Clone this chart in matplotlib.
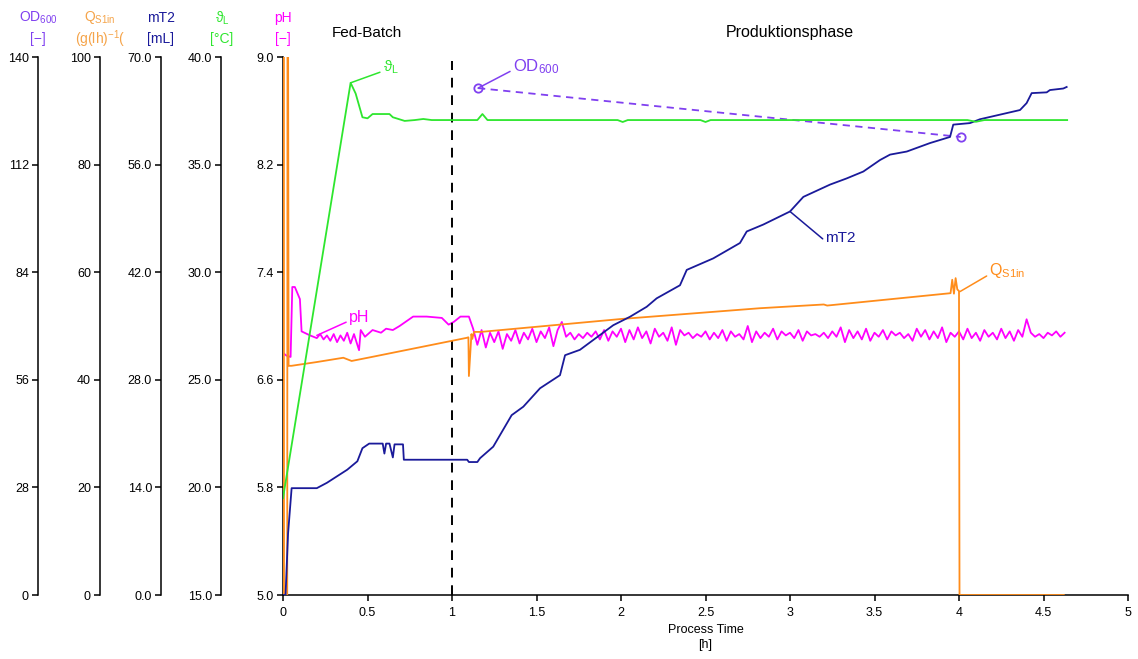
import numpy as np
import matplotlib.pyplot as plt

plt.rcParams['font.family'] = ['Liberation Sans', 'DejaVu Sans']
plt.rcParams['mathtext.fontset'] = 'custom'
plt.rcParams['mathtext.rm'] = 'Liberation Sans'
plt.rcParams['mathtext.it'] = 'Liberation Sans:italic'

# colours
c_od = '#8040F0'
c_q = '#FF8C1A'
c_q_txt = '#F5A44A'
c_mt = '#1A1A9A'
c_th = '#2EE62E'
c_ph = '#FF00FF'

# ---- data (time in h) ----
# OD600 (offline samples)
od_t = [1.154, 4.01]
od_v = [131.9, 119.2]

# Q_S1in feed rate
q_t = [0, 0.002, 0.004, 0.006, 0.025, 0.027, 0.029, 0.033, 0.05, 0.2, 0.357, 0.406, 0.534,
       1.087, 1.097, 1.10, 1.115, 1.12, 1.13, 1.17, 2.0, 2.82, 3.2, 3.22, 3.95,
       3.96, 3.97, 3.98, 3.99, 4.0, 4.003, 4.62]
q_v = [0, 130, 130, 0, 0, 130, 130, 42.6, 42.6, 43.3, 44.1, 43.5, 44.3,
       47.8, 47.9, 40.7, 48.5, 47.6, 48.9, 48.9, 51.3, 53.3, 54.0, 53.8, 56.1,
       58.6, 56.0, 58.9, 56.8, 56.5, 0, 0]

# mT2 (mL)
mt_t = [0, 0.015, 0.03, 0.051, 0.2, 0.26, 0.38, 0.44, 0.47, 0.51, 0.59, 0.6, 0.61, 0.63,
        0.65, 0.66, 0.71, 0.715, 1.09, 1.10, 1.15, 1.166, 1.244, 1.353, 1.422,
        1.521, 1.639, 1.669, 1.757, 1.954, 2.053, 2.152, 2.211, 2.349, 2.389,
        2.546, 2.704, 2.744, 2.842, 3.0, 3.079, 3.237, 3.335, 3.434, 3.533,
        3.592, 3.691, 3.828, 3.947, 3.966, 4.065, 4.124, 4.282, 4.361, 4.40,
        4.43, 4.519, 4.538, 4.617, 4.637]
mt_v = [0, 0, 8.0, 13.9, 13.9, 14.6, 16.3, 17.4, 19.1, 19.7, 19.7, 18.4, 19.7, 19.7,
        17.9, 19.6, 19.6, 17.6, 17.6, 17.3, 17.3, 17.8, 19.3, 23.4, 24.5,
        26.9, 28.6, 31.2, 31.9, 35.1, 36.2, 37.5, 38.6, 40.3, 42.3,
        43.8, 45.8, 47.3, 48.2, 49.9, 51.8, 53.4, 54.2, 55.1, 56.6,
        57.3, 57.7, 58.8, 59.6, 61.2, 61.4, 61.9, 62.7, 63.1, 64.0,
        65.3, 65.4, 65.7, 65.9, 66.1]

# liquid temperature theta_L (deg C)
th_t = [0, 0.40, 0.43, 0.47, 0.50, 0.53, 0.63, 0.65, 0.72, 0.78, 0.83, 0.88, 1.0,
        1.15, 1.18, 1.21, 1.35, 1.98, 2.01, 2.04, 2.47, 2.50, 2.53, 3.0, 3.5,
        3.95, 4.05, 4.1, 4.15, 4.64]
th_v = [19.5, 38.8, 38.3, 37.2, 37.15, 37.35, 37.35, 37.2, 37.03, 37.07, 37.12,
        37.07, 37.07, 37.07, 37.35, 37.07, 37.07, 37.07, 36.98, 37.07, 37.07,
        36.98, 37.07, 37.07, 37.07, 37.07, 37.07, 36.99, 37.07, 37.07]

# pH, batch / fed-batch part
ph_t1 = [0, 0.02, 0.045, 0.055, 0.07, 0.1, 0.11, 0.16, 0.2, 0.22, 0.24, 0.26,
         0.28, 0.30, 0.32, 0.34, 0.36, 0.38, 0.40, 0.42, 0.45, 0.46, 0.485,
         0.53, 0.58, 0.61, 0.65, 0.69, 0.77, 0.85, 0.94, 0.98, 1.01, 1.05, 1.10]
ph_v1 = [6.80, 6.78, 6.77, 7.29, 7.29, 7.20, 6.96, 6.93, 6.91, 6.94, 6.90, 6.93,
         6.89, 6.94, 6.88, 6.93, 6.89, 6.95, 6.87, 6.94, 6.82, 6.97, 6.92,
         6.97, 6.95, 6.98, 6.97, 7.00, 7.07, 7.07, 7.06, 7.01, 7.03, 7.07, 7.07]
# pH, production phase (every 0.025 h from 1.125 h)
ph_v2 = [6.98, 6.86, 6.97, 6.84, 6.95, 6.88, 6.96, 6.83, 6.94, 6.89,
         6.97, 6.87, 6.95, 6.90, 6.98, 6.88, 6.96, 6.91, 6.99, 6.85,
         6.97, 7.03, 6.92, 6.95, 6.90, 6.94, 6.91, 6.95, 6.92, 6.96,
         6.90, 6.97, 6.89, 6.96, 6.92, 6.98, 6.88, 6.97, 6.90, 6.99,
         6.91, 6.96, 6.87, 6.98, 6.92, 6.95, 6.89, 6.99, 6.86, 6.97,
         6.93, 6.95, 6.91, 6.94, 6.92, 6.96, 6.90, 6.95, 6.91, 6.97,
         6.89, 6.96, 6.92, 6.94, 6.90, 7.00, 6.88, 6.96, 6.91, 6.95,
         6.92, 6.98, 6.90, 6.96, 6.93, 6.95, 6.91, 6.97, 6.89, 6.96,
         6.93, 6.94, 6.92, 6.95, 6.91, 6.96, 6.92, 6.99, 6.88, 6.97,
         6.91, 6.96, 6.90, 6.98, 6.89, 6.95, 6.92, 6.97, 6.90, 6.96,
         6.93, 6.95, 6.91, 6.94, 6.89, 6.98, 6.92, 6.97, 6.90, 6.96,
         6.91, 6.99, 6.88, 6.95, 6.92, 6.96, 6.90, 6.98, 6.91, 6.95,
         6.89, 6.97, 6.92, 6.95, 6.90, 6.98, 6.91, 6.96, 6.89, 6.97,
         6.92, 7.05, 6.95, 6.92, 6.94, 6.91, 6.95, 6.93, 6.96, 6.92,
         6.95]
ph_t2 = list(np.linspace(1.125, 4.625, len(ph_v2)))

x_ticks = [0, 0.5, 1, 1.5, 2, 2.5, 3, 3.5, 4, 4.5, 5]
x_ticklabels = ['0', '0.5', '1', '1.5', '2', '2.5', '3', '3.5', '4', '4.5', '5']

# ---- figure ----
W, H = 1138, 659
x0, x1, y_top, y_bot = 283, 1128, 57, 595
fig = plt.figure(figsize=(W / 100, H / 100), dpi=100)
ax = fig.add_axes([x0 / W, 1 - y_bot / H, (x1 - x0) / W, (y_bot - y_top) / H])

lw = 1.3
tick_kw = dict(direction='out', length=4, width=1.1, labelsize=9, pad=2.5)

ax.plot(ph_t1 + ph_t2, ph_v1 + ph_v2, color=c_ph, lw=lw)
ax.set_xlim(0, 5)
ax.set_ylim(5.0, 9.0)
ax.set_yticks([5.0, 5.8, 6.6, 7.4, 8.2, 9.0])
ax.set_yticklabels(['%.1f' % v for v in [5.0, 5.8, 6.6, 7.4, 8.2, 9.0]])
ax.set_xticks(x_ticks)
ax.set_xticklabels(x_ticklabels)
ax.tick_params(**tick_kw)
ax.tick_params(axis='x', pad=5)
for s in ['top', 'right']:
    ax.spines[s].set_visible(False)
for s in ['left', 'bottom']:
    ax.spines[s].set_linewidth(1.1)
ax.axvline(1, ymin=0, ymax=0.992, color='black', ls=(0, (5, 4)), lw=1.4)
ax.set_xlabel('Process Time\n[h]', fontsize=9, labelpad=3, linespacing=1.35)


def make_axis(px, lo, hi, ticks, fmt):
    tw = ax.twinx()
    tw.set_ylim(lo, hi)
    tw.yaxis.set_ticks_position('left')
    tw.yaxis.set_label_position('left')
    tw.spines['left'].set_position(('axes', (px - x0) / (x1 - x0)))
    tw.spines['left'].set_linewidth(1.1)
    for s in ['right', 'top', 'bottom']:
        tw.spines[s].set_visible(False)
    tw.set_yticks(ticks)
    tw.set_yticklabels([fmt % v for v in ticks])
    tw.tick_params(**tick_kw)
    return tw


ax_od = make_axis(38, 0, 140, [0, 28, 56, 84, 112, 140], '%d')
ax_q = make_axis(100, 0, 100, [0, 20, 40, 60, 80, 100], '%d')
ax_mt = make_axis(161, 0, 70, [0, 14, 28, 42, 56, 70], '%.1f')
ax_th = make_axis(221, 15, 40, [15, 20, 25, 30, 35, 40], '%.1f')

ax_q.plot(q_t, q_v, color=c_q, lw=lw)
ax_th.plot(th_t, th_v, color=c_th, lw=lw)
ax_mt.plot(mt_t, mt_v, color=c_mt, lw=lw)
ax_od.plot(od_t, od_v, color=c_od, lw=lw, ls=(0, (4, 3)), marker='o',
           mfc='none', mec=c_od, ms=6, mew=1.3)

# annotations
arr = lambda c: dict(arrowstyle='-', color=c, lw=1.1, shrinkA=0, shrinkB=0,
                     relpos=(0, 0.3))
ax_th.annotate(r'ϑ$_\mathrm{L}$', xy=(0.40, 38.8), xytext=(0.59, 39.5),
               color=c_th, fontsize=11, ha='left', va='center', arrowprops=arr(c_th))
ax_od.annotate(r'OD$_{600}$', xy=(1.154, 131.9), xytext=(1.36, 137.6),
               color=c_od, fontsize=12, ha='left', va='center', arrowprops=arr(c_od))
ax.annotate('pH', xy=(0.20, 6.93), xytext=(0.39, 7.06),
            color=c_ph, fontsize=11.5, ha='left', va='center', arrowprops=arr(c_ph))
ax_mt.annotate('mT2', xy=(3.0, 49.9), xytext=(3.21, 46.4),
               color=c_mt, fontsize=11, ha='left', va='center', arrowprops=arr(c_mt))
ax_q.annotate(r'Q$_\mathrm{S1in}$', xy=(4.006, 56.4), xytext=(4.18, 60.3),
              color=c_q, fontsize=11.5, ha='left', va='center', arrowprops=arr(c_q))

# axis headers
headers = [(38, r'OD$_{600}$', '[−]', c_od),
           (100, r'Q$_\mathrm{S1in}$', r'(g(lh)$^{-1}$(', c_q_txt),
           (161, 'mT2', '[mL]', c_mt),
           (222, r'ϑ$_\mathrm{L}$', '[°C]', c_th),
           (283, 'pH', '[−]', c_ph)]
for px, l1, l2, c in headers:
    fig.text(px / W, 1 - 18 / H, l1, color=c, ha='center', va='center', fontsize=10)
    fig.text(px / W, 1 - 39 / H, l2, color=c, ha='center', va='center', fontsize=10)

fig.text(367 / W, 1 - 33 / H, 'Fed-Batch', ha='center', va='center', fontsize=11)
fig.text(790 / W, 1 - 33 / H, 'Produktionsphase', ha='center', va='center', fontsize=11.5)

fig.savefig('out.png', dpi=100)
